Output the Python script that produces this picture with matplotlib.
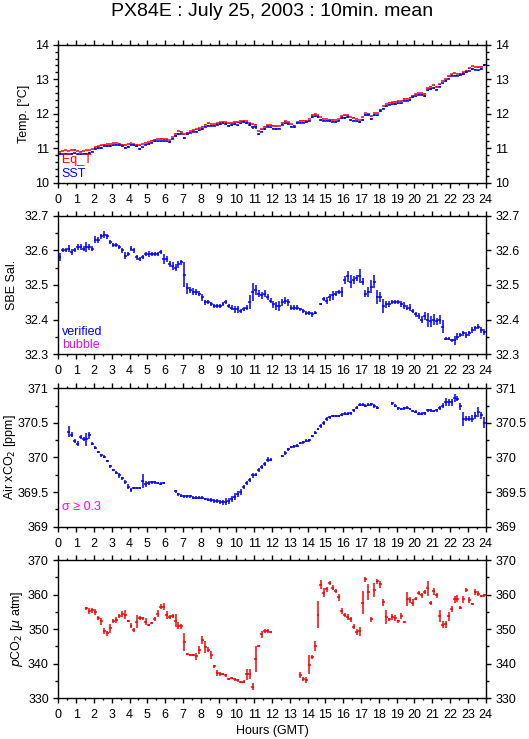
import numpy as np
import matplotlib
matplotlib.use("Agg")
from matplotlib import pyplot as plt
from matplotlib.ticker import MultipleLocator, FormatStrFormatter

plt.rcParams['font.family'] = ['Liberation Sans', 'DejaVu Sans']

nan = np.nan

# 10 minute means, one row per hour (GMT)
sst = [
    [10.83, 10.82, 10.84, 10.82, 10.83, 10.85],
    [10.82, 10.82, 10.84, 10.83, 10.86, 10.90],
    [10.98, 11.00, 11.00, 11.05, 11.06, 11.06],
    [11.08, 11.10, 11.08, 11.05, 11.00, 11.03],
    [11.10, 11.08, 11.05, 10.98, 11.02, 11.10],
    [11.12, 11.16, 11.20, 11.20, 11.20, 11.20],
    [11.20, 11.18, 11.28, 11.35, 11.42, 11.42],
    [11.30, 11.40, 11.45, 11.48, 11.48, 11.52],
    [11.56, 11.62, 11.65, 11.65, 11.65, 11.68],
    [11.70, 11.72, 11.70, 11.65, 11.66, 11.70],
    [11.66, 11.72, 11.75, 11.72, 11.68, 11.60],
    [11.60, 11.42, 11.48, 11.56, 11.62, 11.60],
    [11.57, 11.56, 11.57, 11.68, 11.72, 11.70],
    [11.62, 11.60, 11.72, 11.74, 11.74, 11.75],
    [11.80, 11.90, 11.92, 11.90, 11.82, 11.80],
    [11.80, 11.78, 11.77, 11.75, 11.80, 11.87],
    [11.88, 11.90, 11.82, 11.80, 11.78, 11.76],
    [11.82, 11.95, 11.95, 11.85, 11.95, 11.95],
    [12.08, 12.15, 12.22, 12.26, 12.27, 12.28],
    [12.30, 12.30, 12.38, 12.38, 12.40, 12.48],
    [12.50, 12.55, 12.55, 12.50, 12.68, 12.72],
    [12.75, 12.70, 12.78, 12.88, 12.95, 13.02],
    [13.10, 13.10, 13.10, 13.12, 13.15, 13.20],
    [13.25, 13.30, 13.28, 13.26, 13.30, 13.40],
]
sst_err = [
    [0.02, 0.02, 0.02, 0.02, 0.02, 0.02],
    [0.02, 0.02, 0.02, 0.03, 0.02, 0.02],
    [0.02, 0.02, 0.02, 0.02, 0.02, 0.02],
    [0.02, 0.02, 0.02, 0.02, 0.03, 0.02],
    [0.02, 0.02, 0.02, 0.03, 0.02, 0.02],
    [0.02, 0.02, 0.02, 0.02, 0.02, 0.02],
    [0.02, 0.03, 0.02, 0.02, 0.03, 0.02],
    [0.03, 0.02, 0.02, 0.02, 0.02, 0.02],
    [0.02, 0.02, 0.02, 0.02, 0.02, 0.02],
    [0.02, 0.02, 0.02, 0.03, 0.03, 0.02],
    [0.02, 0.02, 0.02, 0.03, 0.04, 0.04],
    [0.03, 0.03, 0.02, 0.02, 0.02, 0.02],
    [0.02, 0.02, 0.02, 0.02, 0.02, 0.02],
    [0.02, 0.02, 0.02, 0.02, 0.02, 0.02],
    [0.02, 0.02, 0.02, 0.02, 0.02, 0.02],
    [0.02, 0.02, 0.02, 0.03, 0.02, 0.02],
    [0.02, 0.02, 0.03, 0.02, 0.02, 0.03],
    [0.02, 0.03, 0.03, 0.03, 0.03, 0.02],
    [0.02, 0.02, 0.02, 0.02, 0.02, 0.02],
    [0.02, 0.02, 0.02, 0.02, 0.02, 0.02],
    [0.02, 0.02, 0.02, 0.03, 0.02, 0.02],
    [0.02, 0.02, 0.02, 0.02, 0.02, 0.02],
    [0.02, 0.02, 0.02, 0.02, 0.02, 0.02],
    [0.02, 0.02, 0.02, 0.02, 0.02, 0.03],
]
eqt = [
    [10.90, 10.92, 10.95, 10.92, 10.95, 10.96],
    [10.92, 10.90, 10.92, 10.95, 10.95, 10.98],
    [11.02, 11.05, 11.08, 11.10, 11.12, 11.12],
    [11.15, 11.15, 11.13, 11.10, 11.10, 11.12],
    [11.15, 11.12, 11.10, 11.08, 11.12, 11.15],
    [11.18, 11.22, 11.25, 11.27, 11.28, 11.26],
    [11.26, 11.24, 11.32, 11.42, 11.50, 11.48],
    [11.40, 11.45, 11.50, 11.52, 11.55, 11.58],
    [11.62, 11.68, 11.72, 11.70, 11.70, 11.72],
    [11.75, 11.76, 11.75, 11.72, 11.72, 11.75],
    [11.75, 11.78, 11.80, 11.78, 11.72, 11.70],
    [11.68, 11.50, 11.55, 11.62, 11.66, 11.66],
    [11.65, 11.63, 11.64, 11.72, 11.78, 11.75],
    [11.70, 11.65, 11.75, 11.80, 11.80, 11.80],
    [11.85, 11.95, 11.98, 11.95, 11.90, 11.85],
    [11.85, 11.83, 11.83, 11.82, 11.85, 11.92],
    [11.95, 11.95, 11.90, 11.88, 11.85, 11.82],
    [11.90, 12.02, 12.00, 11.92, 12.02, 12.02],
    [12.12, 12.22, 12.28, 12.32, 12.33, 12.35],
    [12.36, 12.36, 12.44, 12.44, 12.46, 12.52],
    [12.56, 12.60, 12.60, 12.58, 12.74, 12.78],
    [12.82, 12.78, 12.85, 12.95, 13.00, 13.08],
    [13.15, 13.18, 13.15, 13.16, 13.20, 13.25],
    [13.32, 13.38, 13.35, 13.34, 13.36, 13.42],
]

sal = [
    [32.580, 32.600, 32.600, 32.605, 32.595, 32.600],
    [32.610, 32.610, 32.605, 32.610, 32.610, 32.605],
    [32.630, 32.630, 32.640, 32.645, 32.640, 32.625],
    [32.615, 32.615, 32.610, 32.600, 32.585, 32.590],
    [32.605, 32.600, 32.580, 32.575, 32.580, 32.590],
    [32.590, 32.590, 32.590, 32.590, 32.595, 32.575],
    [32.575, 32.560, 32.555, 32.550, 32.560, 32.565],
    [32.530, 32.490, 32.485, 32.480, 32.480, 32.475],
    [32.465, 32.450, 32.450, 32.445, 32.440, 32.440],
    [32.440, 32.445, 32.450, 32.440, 32.435, 32.430],
    [32.430, 32.425, 32.430, 32.435, 32.450, 32.480],
    [32.485, 32.475, 32.470, 32.475, 32.465, 32.455],
    [32.445, 32.440, 32.440, 32.450, 32.455, 32.450],
    [32.435, 32.435, 32.435, 32.430, 32.425, 32.420],
    [32.420, 32.415, 32.420, nan, 32.445, 32.460],
    [32.455, 32.465, 32.470, 32.475, 32.480, 32.480],
    [32.515, 32.525, 32.510, 32.515, 32.520, 32.525],
    [32.510, 32.475, 32.480, 32.495, 32.510, 32.465],
    [32.465, 32.440, 32.445, 32.445, 32.450, 32.450],
    [32.450, 32.445, 32.440, 32.435, 32.435, 32.425],
    [32.415, 32.410, 32.400, 32.410, 32.400, 32.395],
    [32.400, 32.395, 32.400, 32.380, 32.345, 32.345],
    [32.340, 32.340, 32.350, 32.355, 32.360, 32.355],
    [32.360, 32.370, 32.375, 32.380, 32.370, 32.365],
]
sal_err = [
    [0.012, 0.006, 0.006, 0.010, 0.008, 0.006],
    [0.008, 0.008, 0.008, 0.015, 0.008, 0.008],
    [0.010, 0.008, 0.008, 0.010, 0.008, 0.006],
    [0.006, 0.006, 0.005, 0.008, 0.010, 0.006],
    [0.008, 0.008, 0.008, 0.006, 0.006, 0.006],
    [0.008, 0.006, 0.006, 0.006, 0.005, 0.015],
    [0.008, 0.008, 0.012, 0.010, 0.010, 0.008],
    [0.035, 0.015, 0.008, 0.010, 0.008, 0.008],
    [0.010, 0.008, 0.006, 0.006, 0.005, 0.005],
    [0.005, 0.006, 0.006, 0.006, 0.008, 0.010],
    [0.010, 0.005, 0.006, 0.008, 0.020, 0.025],
    [0.015, 0.010, 0.010, 0.010, 0.008, 0.008],
    [0.010, 0.012, 0.015, 0.010, 0.010, 0.010],
    [0.006, 0.008, 0.006, 0.005, 0.005, 0.006],
    [0.006, 0.006, 0.004, 0.000, 0.004, 0.006],
    [0.010, 0.010, 0.012, 0.008, 0.006, 0.015],
    [0.012, 0.015, 0.020, 0.012, 0.008, 0.020],
    [0.010, 0.010, 0.015, 0.018, 0.020, 0.020],
    [0.015, 0.020, 0.010, 0.008, 0.006, 0.006],
    [0.006, 0.008, 0.010, 0.008, 0.010, 0.006],
    [0.006, 0.008, 0.010, 0.012, 0.020, 0.015],
    [0.015, 0.010, 0.012, 0.018, 0.004, 0.004],
    [0.005, 0.012, 0.010, 0.006, 0.006, 0.008],
    [0.006, 0.008, 0.008, 0.006, 0.008, 0.008],
]

xco2 = [
    [nan, nan, nan, 370.37, 370.33, 370.24],
    [370.20, 370.30, 370.27, 370.26, 370.32, 370.20],
    [370.14, 370.08, 370.03, 370.01, 369.95, 369.87],
    [369.82, 369.78, 369.74, 369.70, 369.65, 369.58],
    [369.53, 369.56, 369.56, 369.56, 369.66, 369.62],
    [369.63, 369.64, 369.64, 369.63, 369.62, 369.63],
    [nan, nan, nan, 369.51, 369.47, 369.45],
    [369.44, 369.44, 369.44, 369.42, 369.42, 369.42],
    [369.42, 369.40, 369.39, 369.38, 369.37, 369.37],
    [369.36, 369.35, 369.36, 369.37, 369.40, 369.43],
    [369.47, 369.50, 369.57, 369.63, 369.67, 369.74],
    [369.75, 369.82, 369.86, 369.90, 369.97, 369.97],
    [nan, nan, nan, 370.02, 370.07, 370.12],
    [370.15, 370.16, 370.17, 370.21, 370.22, 370.24],
    [370.25, 370.31, 370.36, 370.41, 370.45, 370.50],
    [370.55, 370.58, 370.60, 370.60, 370.60, 370.62],
    [370.63, 370.63, 370.64, 370.68, 370.72, 370.76],
    [370.76, 370.75, 370.76, 370.77, 370.74, 370.72],
    [nan, nan, nan, nan, 370.78, 370.75],
    [370.71, 370.70, 370.71, 370.72, 370.70, 370.67],
    [370.66, 370.63, 370.63, 370.64, 370.68, 370.68],
    [370.67, 370.68, 370.71, 370.75, 370.80, 370.80],
    [370.80, 370.86, 370.85, 370.74, 370.56, 370.56],
    [370.56, 370.56, 370.60, 370.66, 370.61, 370.50],
]
xco2_err = [
    [0.00, 0.00, 0.00, 0.08, 0.04, 0.03],
    [0.04, 0.03, 0.03, 0.10, 0.05, 0.02],
    [0.02, 0.02, 0.02, 0.02, 0.02, 0.02],
    [0.02, 0.02, 0.03, 0.02, 0.03, 0.03],
    [0.03, 0.02, 0.02, 0.02, 0.10, 0.04],
    [0.03, 0.02, 0.02, 0.02, 0.02, 0.02],
    [0.00, 0.00, 0.00, 0.02, 0.02, 0.02],
    [0.02, 0.02, 0.02, 0.02, 0.02, 0.02],
    [0.02, 0.02, 0.02, 0.03, 0.03, 0.03],
    [0.03, 0.04, 0.05, 0.04, 0.04, 0.05],
    [0.04, 0.04, 0.03, 0.03, 0.03, 0.03],
    [0.02, 0.03, 0.03, 0.03, 0.03, 0.02],
    [0.00, 0.00, 0.00, 0.01, 0.03, 0.02],
    [0.02, 0.02, 0.02, 0.02, 0.02, 0.02],
    [0.02, 0.02, 0.02, 0.02, 0.03, 0.03],
    [0.03, 0.02, 0.02, 0.02, 0.02, 0.02],
    [0.02, 0.02, 0.02, 0.02, 0.02, 0.02],
    [0.02, 0.02, 0.02, 0.02, 0.03, 0.02],
    [0.00, 0.00, 0.00, 0.00, 0.02, 0.02],
    [0.02, 0.02, 0.02, 0.02, 0.02, 0.02],
    [0.02, 0.02, 0.02, 0.02, 0.02, 0.02],
    [0.02, 0.02, 0.03, 0.04, 0.06, 0.05],
    [0.05, 0.06, 0.04, 0.05, 0.10, 0.04],
    [0.04, 0.05, 0.05, 0.07, 0.05, 0.08],
]

pco2 = [
    [nan, nan, nan, nan, nan, nan],
    [nan, nan, nan, 356.0, 355.3, 355.5],
    [355.0, 353.2, 352.3, 349.5, 348.8, 350.3],
    [352.4, 352.7, 353.8, 354.3, 354.2, 352.3],
    [351.0, 349.7, 352.2, 353.2, 353.1, 352.2],
    [351.2, 351.8, 353.0, 354.4, 356.5, 356.5],
    [354.1, 353.5, 353.8, 352.5, 351.0, 350.8],
    [346.3, 342.8, 342.6, 342.5, 342.2, 344.0],
    [346.9, 344.8, 344.1, 342.6, 339.3, 337.3],
    [337.0, 337.0, 336.6, 335.5, 335.8, 335.5],
    [335.2, 334.8, 334.8, 337.0, 337.0, 333.3],
    [341.3, 345.1, 348.5, 349.5, 349.5, 349.2],
    [nan, nan, nan, nan, nan, nan],
    [nan, nan, nan, 336.7, 335.5, 335.3],
    [339.7, 342.0, 345.2, 354.2, 362.9, 360.5],
    [361.5, 363.3, 362.0, 361.0, 359.2, 355.3],
    [354.2, 353.5, 352.8, 350.7, 349.2, 349.4],
    [357.6, 364.4, 360.8, 352.8, 361.4, 363.8],
    [363.0, 357.8, 353.4, 352.8, 353.5, 353.3],
    [352.3, 353.8, 352.2, 358.7, 358.5, 357.7],
    [358.8, 360.5, 359.8, 360.8, 361.8, 357.6],
    [360.9, 359.8, 353.8, 351.3, 351.4, 353.8],
    [355.8, 358.6, 358.8, 356.2, 358.6, 361.3],
    [358.5, 357.3, 360.8, 360.3, 359.6, 359.8],
]
pco2_err = [
    [0.0, 0.0, 0.0, 0.0, 0.0, 0.0],
    [0.0, 0.0, 0.0, 0.5, 0.8, 0.7],
    [0.8, 0.6, 1.0, 0.8, 0.7, 1.3],
    [0.6, 0.8, 0.5, 0.9, 1.2, 0.3],
    [0.8, 0.5, 1.8, 0.6, 0.5, 0.9],
    [0.4, 0.3, 0.6, 1.0, 0.7, 1.0],
    [1.2, 0.5, 0.6, 2.0, 1.0, 0.7],
    [2.5, 0.3, 0.3, 0.3, 1.0, 1.2],
    [1.2, 1.8, 0.8, 1.2, 0.4, 0.9],
    [0.6, 0.4, 0.4, 0.3, 0.3, 0.4],
    [0.4, 0.3, 0.5, 1.6, 1.5, 1.0],
    [3.8, 0.2, 1.0, 0.5, 0.6, 0.4],
    [0.0, 0.0, 0.0, 0.0, 0.0, 0.0],
    [0.0, 0.0, 0.0, 0.8, 0.6, 0.8],
    [2.8, 0.5, 1.5, 4.0, 1.3, 1.3],
    [0.8, 0.6, 0.7, 0.5, 1.0, 0.8],
    [0.6, 0.8, 0.7, 0.8, 0.8, 1.3],
    [3.3, 0.8, 2.3, 0.7, 2.0, 0.7],
    [1.0, 1.0, 2.0, 0.3, 0.9, 0.9],
    [0.4, 0.8, 0.3, 2.0, 0.9, 1.0],
    [0.4, 0.5, 0.8, 0.6, 2.2, 0.6],
    [1.0, 0.8, 1.6, 1.0, 1.0, 1.3],
    [0.8, 1.0, 1.0, 0.4, 1.0, 0.5],
    [0.9, 0.4, 0.8, 0.6, 0.4, 0.4],
]

hours = np.arange(144) / 6 + 1 / 12
half_bin = 1 / 12


def flat(rows):
    return np.array(rows, dtype=float).ravel()


def setup(ax, lo, hi, major, minor, label, label_x):
    ax.set_xlim(0, 24)
    ax.set_ylim(lo, hi)
    ax.xaxis.set_major_locator(MultipleLocator(1))
    ax.xaxis.set_minor_locator(MultipleLocator(0.5))
    ax.yaxis.set_major_locator(MultipleLocator(major))
    ax.yaxis.set_minor_locator(MultipleLocator(minor))
    ax.yaxis.set_major_formatter(FormatStrFormatter('%g'))
    ax.tick_params(which='both', direction='out', top=True, right=True,
                   labelright=True, width=1, labelsize=9)
    ax.tick_params(axis='x', which='major', length=3.4, pad=4.5)
    ax.tick_params(axis='x', which='minor', length=1.7)
    ax.tick_params(axis='y', which='major', length=3.6, pad=3.2)
    ax.tick_params(axis='y', which='minor', length=2.2)
    for s in ax.spines.values():
        s.set_linewidth(1)
    ax.set_ylabel(label, fontsize=9)
    ax.yaxis.set_label_coords(label_x, 0.5)


def crosses(ax, y, err, color):
    ax.errorbar(hours, y, yerr=err, xerr=half_bin, fmt='none',
                ecolor=color, elinewidth=1.1, capsize=0)


fig = plt.figure(figsize=(5.29, 7.39), dpi=100)

ax1 = fig.add_axes([0.1102, 0.7528, 0.8079, 0.1867])
ax2 = fig.add_axes([0.1102, 0.5206, 0.8079, 0.1875])
ax3 = fig.add_axes([0.1102, 0.2873, 0.8079, 0.1873])
ax4 = fig.add_axes([0.1102, 0.0551, 0.8079, 0.1871])

setup(ax1, 10, 14, 1, 0.2, 'Temp. [°C]', -0.066)
setup(ax2, 32.3, 32.7, 0.1, 0.05, 'SBE Sal.', -0.094)
setup(ax3, 369, 371, 0.5, 0.25, 'Air xCO$_2$ [ppm]', -0.095)
setup(ax4, 330, 370, 10, 5, r'$p$CO$_2$ [$\mu$ atm]', -0.078)

crosses(ax1, flat(eqt), 0.01, 'red')
crosses(ax1, flat(sst), flat(sst_err), 'blue')
ax1.text(0.008, 0.14, 'Eq_T', color='red', fontsize=9, transform=ax1.transAxes)
ax1.text(0.008, 0.04, 'SST', color='blue', fontsize=9, transform=ax1.transAxes)

crosses(ax2, flat(sal), flat(sal_err), 'blue')
ax2.text(0.008, 0.14, 'verified', color='blue', fontsize=9, transform=ax2.transAxes)
ax2.text(0.008, 0.045, 'bubble', color='magenta', fontsize=9, transform=ax2.transAxes)

crosses(ax3, flat(xco2), flat(xco2_err), 'blue')
ax3.text(0.008, 0.12, 'σ ≥ 0.3', color='magenta', fontsize=9, transform=ax3.transAxes)

crosses(ax4, flat(pco2), flat(pco2_err), 'red')

fig.text(0.514, 0.984, 'PX84E : July 25, 2003 : 10min. mean',
         ha='center', va='center', fontsize=14)
fig.text(0.514, 0.011, 'Hours (GMT)', ha='center', va='center', fontsize=9)

fig.savefig('out.png', dpi=100, facecolor='white')
